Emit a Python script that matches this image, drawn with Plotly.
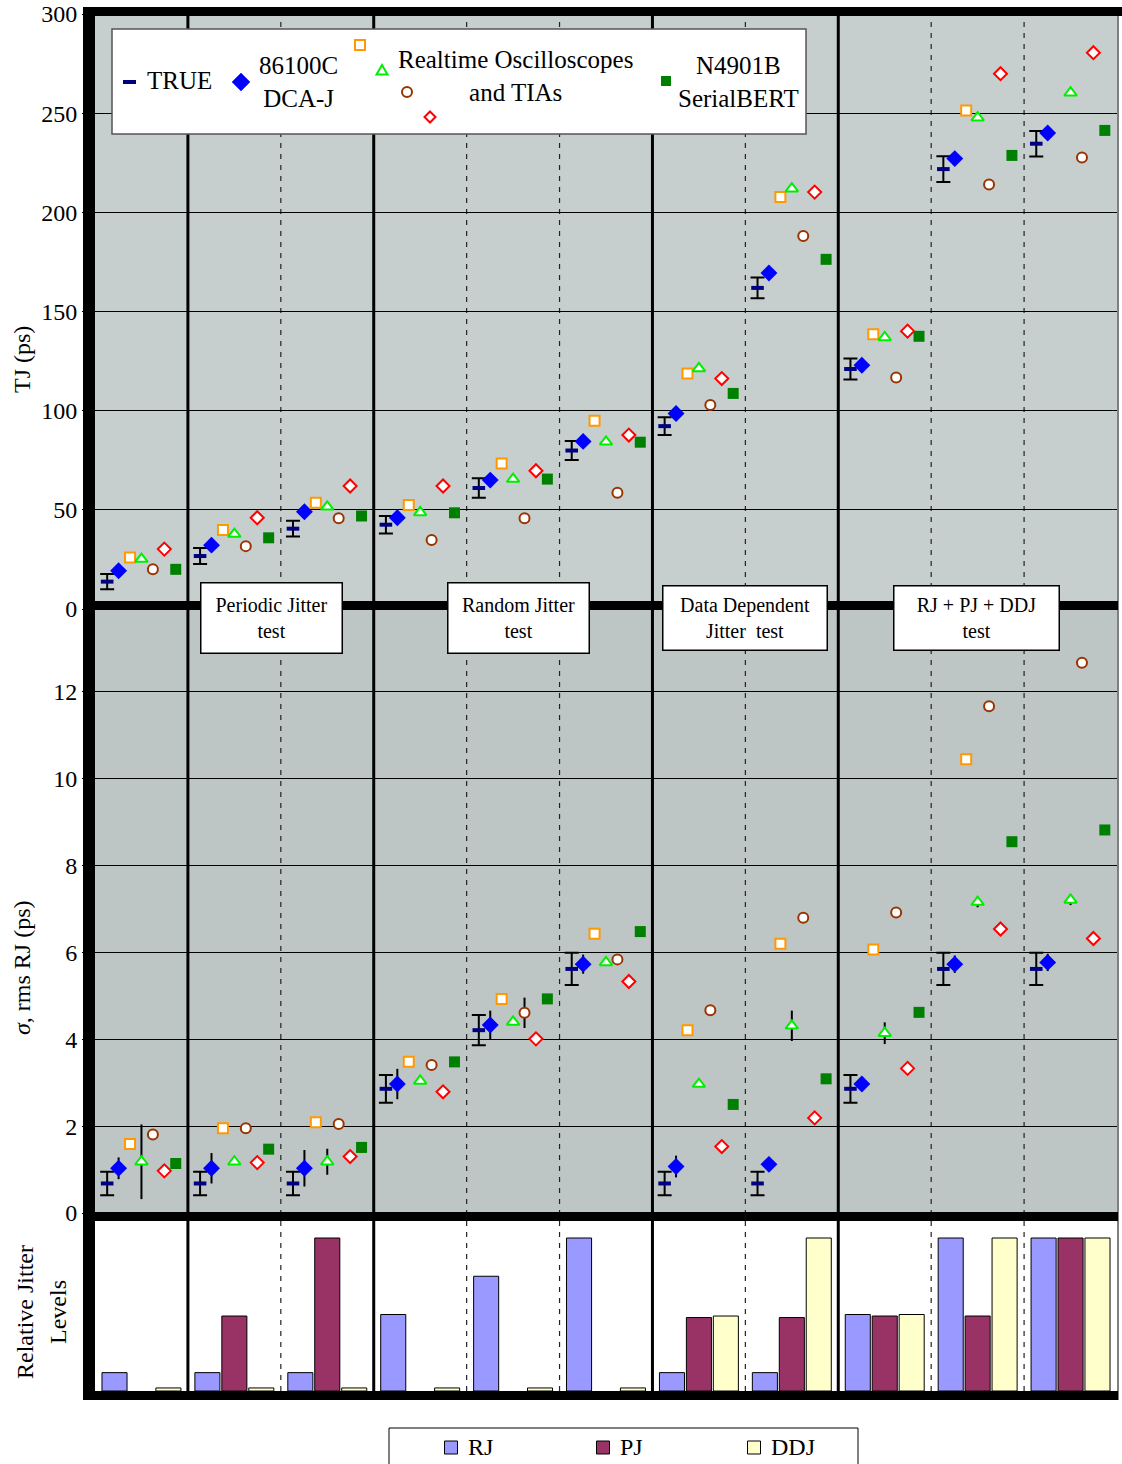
import plotly.graph_objects as go

W, H = 1122, 1464

# ---------------- data ----------------
case_idx = list(range(11))

# Total jitter (ps)
tj_true = [13.8, 26.7, 40.5, 42.5, 61.0, 79.9, 92.2, 161.9, 121.0, 221.8, 234.6]
tj_true_err = [3.8, 4.0, 4.0, 4.4, 4.9, 4.8, 4.5, 5.2, 5.3, 6.5, 6.4]
tj_dcaj = [19.3, 32.2, 49.0, 46.0, 65.0, 84.5, 98.6, 169.4, 122.9, 227.1, 240.0]
tj_scope_a = [26.0, 39.8, 53.6, 52.4, 73.4, 94.9, 118.7, 207.7, 138.5, 251.4, None]
tj_scope_b = [25.2, 37.8, 51.5, 48.7, 65.5, 84.3, 121.3, 211.9, 136.9, 247.7, 260.3]
tj_scope_c = [20.0, 31.7, 45.7, 34.8, 45.7, 58.6, 102.8, 188.1, 116.7, 214.0, 227.6]
tj_scope_d = [30.2, 46.0, 62.0, 62.0, 69.7, 87.7, 116.2, 210.2, 140.1, 269.9, 280.5]
tj_bert = [20.0, 35.9, 46.9, 48.5, 65.5, 84.1, 108.7, 176.3, 137.5, 228.7, 241.3]

# rms random jitter (ps)
rj_true = [0.68, 0.68, 0.68, 2.86, 4.21, 5.62, 0.68, 0.68, 2.86, 5.62, 5.62]
rj_true_err = [0.27, 0.27, 0.27, 0.32, 0.35, 0.37, 0.27, 0.27, 0.32, 0.37, 0.37]
rj_dcaj = [1.03, 1.03, 1.03, 2.97, 4.33, 5.73, 1.07, 1.12, 2.97, 5.73, 5.77]
rj_dcaj_err = [0.25, 0.35, 0.42, 0.35, 0.33, 0.22, 0.25, 0.15, 0.1, 0.2, 0.2]
rj_scope_a = [1.59, 1.95, 2.09, 3.48, 4.93, 6.43, 4.21, 6.20, 6.07, 10.45, None]
rj_scope_a_err = [0, 0, 0, 0, 0, 0, 0.1, 0, 0, 0, 0]
rj_scope_b = [1.18, 1.18, 1.18, 3.04, 4.40, 5.77, 2.97, 4.31, 4.14, 7.16, 7.21]
rj_scope_b_err = [0.86, 0, 0.3, 0, 0, 0, 0, 0.35, 0.25, 0.12, 0.12]
rj_scope_c = [1.81, 1.95, 2.05, 3.41, 4.61, 5.84, 4.67, 6.80, 6.92, 11.67, 12.67]
rj_scope_c_err = [0, 0, 0.12, 0.1, 0.35, 0, 0, 0, 0, 0, 0]
rj_scope_d = [0.97, 1.16, 1.30, 2.79, 4.01, 5.33, 1.53, 2.19, 3.33, 6.54, 6.32]
rj_bert = [1.14, 1.47, 1.51, 3.48, 4.93, 6.48, 2.50, 3.09, 4.62, 8.55, 8.82]
rj_bert_err = [0, 0, 0.12, 0, 0, 0, 0, 0, 0, 0, 0]

# Relative injected jitter levels
lvl_rj = [0.12, 0.12, 0.12, 0.5, 0.75, 1.0, 0.12, 0.12, 0.5, 1.0, 1.0]
lvl_pj = [None, 0.49, 1.0, None, None, None, 0.48, 0.48, 0.49, 0.49, 1.0]
lvl_ddj = [0.02, 0.02, 0.02, 0.02, 0.02, 0.02, 0.49, 1.0, 0.5, 1.0, 1.0]

tj_ticks = [0, 50, 100, 150, 200, 250, 300]
rj_ticks = [0, 2, 4, 6, 8, 10, 12]

test_labels = ["Periodic Jitter<br>test", "Random Jitter<br>test",
               "Data Dependent<br>Jitter  test", "RJ + PJ + DDJ<br>test"]
level_names = ["RJ", "PJ", "DDJ"]

# ---------------- styling ----------------
FONT = "Liberation Serif, Times New Roman, serif"


def X(p):
    return p / W


def Y(p):
    return 1 - p / H


DX = 0.123  # horizontal spacing of the instruments inside one case

STYLE_TRUE = dict(symbol="line-ew", size=9, color="#000080",
                  line=dict(color="#000080", width=4))
STYLE_DCAJ = dict(symbol="diamond", size=13, color="#0000ff", line=dict(width=0))
STYLE_A = dict(symbol="square", size=10, color="white", line=dict(color="#ff9900", width=2))
STYLE_B = dict(symbol="triangle-up", size=11, color="white", line=dict(color="#00ee00", width=2))
STYLE_C = dict(symbol="circle", size=10, color="white", line=dict(color="#993300", width=2))
STYLE_D = dict(symbol="diamond", size=10, color="white", line=dict(color="#ff0000", width=2))
STYLE_BERT = dict(symbol="square", size=11, color="#008000", line=dict(width=0))

fig = go.Figure()


def add_series(values, style, k, xa, ya, err=None, cap=0):
    xs = [i + k * DX for i in case_idx]
    tr = dict(x=xs, y=values, mode="markers", marker=style, xaxis=xa, yaxis=ya,
              showlegend=False, hoverinfo="skip", cliponaxis=False)
    if err is not None:
        tr["error_y"] = dict(type="data", array=err, color="black",
                             thickness=2, width=cap, visible=True)
    fig.add_trace(go.Scatter(**tr))


# Total jitter panel
add_series(tj_true, STYLE_TRUE, -3, "x", "y", tj_true_err, cap=7)
add_series(tj_dcaj, STYLE_DCAJ, -2, "x", "y")
add_series(tj_scope_a, STYLE_A, -1, "x", "y")
add_series(tj_scope_b, STYLE_B, 0, "x", "y")
add_series(tj_scope_c, STYLE_C, 1, "x", "y")
add_series(tj_scope_d, STYLE_D, 2, "x", "y")
add_series(tj_bert, STYLE_BERT, 3, "x", "y")

# Random jitter panel
add_series(rj_true, STYLE_TRUE, -3, "x2", "y2", rj_true_err, cap=7)
add_series(rj_dcaj, STYLE_DCAJ, -2, "x2", "y2", rj_dcaj_err)
add_series(rj_scope_a, STYLE_A, -1, "x2", "y2", rj_scope_a_err)
add_series(rj_scope_b, STYLE_B, 0, "x2", "y2", rj_scope_b_err)
add_series(rj_scope_c, STYLE_C, 1, "x2", "y2", rj_scope_c_err)
add_series(rj_scope_d, STYLE_D, 2, "x2", "y2")
add_series(rj_bert, STYLE_BERT, 3, "x2", "y2", rj_bert_err)

# Relative jitter level bars
bar_colors = ["#9999ff", "#993366", "#ffffcc"]
for name, vals, col in zip(level_names, [lvl_rj, lvl_pj, lvl_ddj], bar_colors):
    fig.add_trace(go.Bar(x=case_idx, y=vals, name=name, xaxis="x3", yaxis="y3",
                         marker=dict(color=col, line=dict(color="black", width=1)),
                         showlegend=False, hoverinfo="skip"))

# ---------------- axes ----------------
xdom = [X(95), X(1117)]
xcommon = dict(domain=xdom, range=[-0.5, 10.5], showgrid=False, zeroline=False,
               showticklabels=False, ticks="", showline=False, fixedrange=True)
ycommon = dict(showgrid=True, gridcolor="black", gridwidth=1, zeroline=False,
               ticks="outside", ticklen=12, tickwidth=1, tickcolor="black",
               tickfont=dict(family=FONT, size=24, color="black"),
               showline=False, automargin=False, fixedrange=True)

fig.update_layout(
    width=W, height=H, autosize=False,
    margin=dict(l=0, r=0, t=0, b=0),
    template="none",
    paper_bgcolor="white", plot_bgcolor="rgba(0,0,0,0)",
    barmode="group", bargap=0.13, bargroupgap=0.07,
    xaxis=dict(**xcommon, anchor="y"),
    xaxis2=dict(**xcommon, anchor="y2", matches="x"),
    xaxis3=dict(**xcommon, anchor="y3", matches="x"),
    yaxis=dict(**ycommon, domain=[Y(609), Y(14)], range=[0, 300],
               tickvals=tj_ticks, anchor="x"),
    yaxis2=dict(**ycommon, domain=[Y(1213), Y(605)], range=[0, 14],
                tickvals=rj_ticks, anchor="x2"),
    yaxis3=dict(domain=[Y(1391), Y(1221)], range=[0, 170 / 153], showgrid=False,
                zeroline=False, showticklabels=False, ticks="", anchor="x3",
                fixedrange=True),
    showlegend=False,
)

# ---------------- shapes ----------------
shapes = []


def rect(x0, y0, x1, y1, fill, line_color=None, lw=0, layer="above"):
    return dict(type="rect", xref="paper", yref="paper",
                x0=X(x0), x1=X(x1), y0=Y(y1), y1=Y(y0),
                fillcolor=fill, layer=layer,
                line=dict(color=line_color or fill, width=lw))


# panel backgrounds
shapes.append(rect(95, 14, 1117, 605, "#c6cfce", layer="below"))
shapes.append(rect(95, 605, 1117, 1213, "#bdc6c5", layer="below"))

# case separators: solid between test groups, dashed within
for b in [0.5, 2.5, 5.5, 7.5]:
    shapes.append(dict(type="line", xref="x", yref="paper", x0=b, x1=b,
                       y0=Y(1391), y1=Y(14), layer="below",
                       line=dict(color="black", width=3)))
for b in [1.5, 3.5, 4.5, 6.5, 8.5, 9.5]:
    shapes.append(dict(type="line", xref="x", yref="paper", x0=b, x1=b,
                       y0=Y(1391), y1=Y(14), layer="below",
                       line=dict(color="#222222", width=1.2, dash="5px,6px")))

# right frame line
shapes.append(dict(type="line", xref="paper", yref="paper", x0=X(1118), x1=X(1118),
                   y0=Y(1400), y1=Y(7), layer="above",
                   line=dict(color="#555555", width=1.5)))

# heavy frame
shapes.append(rect(83, 7, 1122, 16, "black"))
shapes.append(rect(83, 7, 95, 1400, "black"))
shapes.append(rect(83, 601, 1118, 610, "black"))
shapes.append(rect(83, 1212, 1118, 1221, "black"))
shapes.append(rect(83, 1391, 1118, 1400, "black"))

# legend box for instruments
shapes.append(rect(112, 29, 806, 134, "white", "#555555", 1.5))


def diamond(cx, cy, h, fill, edge, lw):
    path = (f"M {X(cx)},{Y(cy - h)} L {X(cx + h)},{Y(cy)} "
            f"L {X(cx)},{Y(cy + h)} L {X(cx - h)},{Y(cy)} Z")
    return dict(type="path", xref="paper", yref="paper", path=path,
                fillcolor=fill, line=dict(color=edge, width=lw), layer="above")


def tri(cx, cy, h, fill, edge, lw):
    path = (f"M {X(cx - h)},{Y(cy + h * 0.8)} L {X(cx + h)},{Y(cy + h * 0.8)} "
            f"L {X(cx)},{Y(cy - h * 0.9)} Z")
    return dict(type="path", xref="paper", yref="paper", path=path,
                fillcolor=fill, line=dict(color=edge, width=lw), layer="above")


shapes.append(dict(type="line", xref="paper", yref="paper", x0=X(123), x1=X(136),
                   y0=Y(82), y1=Y(82), layer="above",
                   line=dict(color="#000080", width=4)))
shapes.append(diamond(241, 82, 9, "#0000ff", "#0000ff", 0.5))
shapes.append(rect(355, 40, 365, 50, "white", "#ff9900", 2))
shapes.append(tri(382, 70, 5.5, "white", "#00ee00", 2))
shapes.append(dict(type="circle", xref="paper", yref="paper",
                   x0=X(402), x1=X(412), y0=Y(97), y1=Y(87), layer="above",
                   fillcolor="white", line=dict(color="#993300", width=2)))
shapes.append(diamond(430, 117, 5.5, "white", "#ff0000", 2))
shapes.append(rect(661, 76, 671, 86, "#008000"))

# level legend
shapes.append(rect(389, 1428, 858, 1470, "white", "black", 1))
for cx, col in zip([451, 603, 754], bar_colors):
    shapes.append(rect(cx - 6.5, 1441, cx + 6.5, 1454, col, "black", 1))

fig.update_layout(shapes=shapes)

# ---------------- annotations ----------------
ann = []


def text(x, y, s, size=24, xanchor="center", angle=0, **kw):
    ann.append(dict(xref="paper", yref="paper", x=X(x), y=Y(y), text=s,
                    showarrow=False, xanchor=xanchor, yanchor="middle",
                    textangle=angle, font=dict(family=FONT, size=size, color="black"),
                    **kw))


# axis titles
text(22, 360, "TJ (ps)", angle=-90)
text(22, 968, "<i>σ</i>, rms RJ (ps)", angle=-90)
text(25, 1312, "Relative Jitter", angle=-90)
text(58, 1312, "Levels", angle=-90)

# instrument legend text
text(145, 81, "TRUE", size=25, xanchor="left")
text(298, 82, "86100C<br>DCA-J", size=25)
text(515, 76, "Realtime Oscilloscopes<br>and TIAs", size=25)
text(738, 82, "N4901B<br>SerialBERT", size=25)

# test group labels
boxes = [(200, 582, 342, 653), (447, 582, 589, 653),
         (662, 585, 827, 650), (893, 585, 1059, 650)]
for (x0, y0, x1, y1), lab in zip(boxes, test_labels):
    ann.append(dict(xref="paper", yref="paper", x=X((x0 + x1) / 2), y=Y((y0 + y1) / 2),
                    text=lab, showarrow=False, xanchor="center", yanchor="middle",
                    width=x1 - x0 - 2, height=y1 - y0 - 2, borderpad=0,
                    bgcolor="white", bordercolor="black", borderwidth=1.5,
                    font=dict(family=FONT, size=20, color="black")))

# level legend text
for cx, name in zip([451, 603, 754], level_names):
    text(cx + 15, 1447, name, xanchor="left")

fig.update_layout(annotations=ann)

fig.write_html("out.html")
